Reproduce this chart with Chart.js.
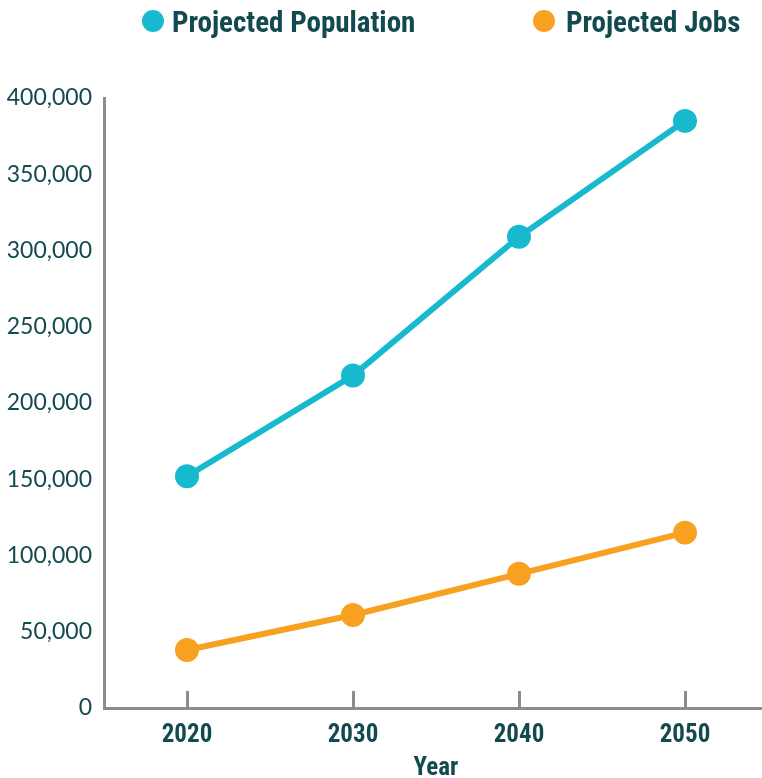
<!DOCTYPE html>
<html>
<head>
<meta charset="utf-8">
<script src="https://cdn.jsdelivr.net/npm/chart.js@4"></script>
<style>
html,body{margin:0;padding:0;overflow:hidden;background:#fff;width:762px;height:778px;}
#wrap{position:absolute;left:0;top:0;width:768px;height:778px;}
</style>
</head>
<body>
<div id="wrap"><canvas id="c" width="768" height="778"></canvas></div>
<script>
const years = ['2020', '2030', '2040', '2050'];
const population = [152000, 218000, 309000, 385000];
const jobs = [38000, 61000, 88000, 115000];
const seriesNames = ['Projected Population', 'Projected Jobs'];
const yTicks = [0, 50000, 100000, 150000, 200000, 250000, 300000, 350000, 400000];
const xTitle = 'Year';

const TEXT = '#124a50';
const AXIS = '#8c8c8c';
const CYAN = '#17b9cf';
const ORANGE = '#f8a01f';
const BOLD = '"Roboto Condensed", Roboto, sans-serif';

const legendPlugin = {
  id: 'customLegend',
  afterDraw(chart) {
    const ctx = chart.ctx;
    const pos = [[153, 172], [544, 566]];
    ctx.save();
    ctx.font = 'bold 29px ' + BOLD;
    ctx.textBaseline = 'alphabetic';
    ctx.textAlign = 'left';
    chart.data.datasets.forEach((ds, i) => {
      ctx.fillStyle = ds.borderColor;
      ctx.beginPath();
      ctx.arc(pos[i][0], 21, 11, 0, Math.PI * 2);
      ctx.fill();
      ctx.fillStyle = TEXT;
      ctx.fillText(ds.label, pos[i][1], 32);
    });
    ctx.restore();
  }
};

new Chart(document.getElementById('c'), {
  type: 'line',
  data: {
    labels: years,
    datasets: [
      {label: seriesNames[0], data: population, borderColor: CYAN, backgroundColor: CYAN,
       borderWidth: 6, pointRadius: 12, pointHoverRadius: 12, pointBorderWidth: 0, tension: 0},
      {label: seriesNames[1], data: jobs, borderColor: ORANGE, backgroundColor: ORANGE,
       borderWidth: 6, pointRadius: 12, pointHoverRadius: 12, pointBorderWidth: 0, tension: 0}
    ]
  },
  options: {
    responsive: false,
    animation: false,
    events: [],
    layout: {autoPadding: false, padding: {top: 98, left: 0, right: 0, bottom: 0}},
    plugins: {legend: {display: false}, tooltip: {enabled: false}},
    scales: {
      x: {
        offset: true,
        grid: {display: true, drawOnChartArea: false, drawTicks: true, tickLength: -17, color: AXIS, lineWidth: 3, offset: false},
        border: {display: true, color: AXIS, width: 3},
        ticks: {color: TEXT, font: {family: BOLD, size: 25, weight: 'bold'}, padding: 30, maxRotation: 0},
        title: {display: true, text: xTitle, color: TEXT, font: {family: BOLD, size: 25, weight: 'bold', lineHeight: 1}, padding: {top: 0, bottom: -3}},
        afterFit(s) { s.height = 70; }
      },
      y: {
        min: 0, max: 400000,
        afterBuildTicks(s) { s.ticks = yTicks.map(v => ({value: v})); },
        grid: {display: false, drawTicks: false},
        border: {display: true, color: AXIS, width: 3},
        ticks: {color: TEXT, font: {family: 'Lato', size: 23}, padding: 12,
                callback: v => v.toLocaleString('en-US')},
        afterFit(s) { s.width = 104; }
      }
    }
  },
  plugins: [legendPlugin]
});
</script>
</body>
</html>
